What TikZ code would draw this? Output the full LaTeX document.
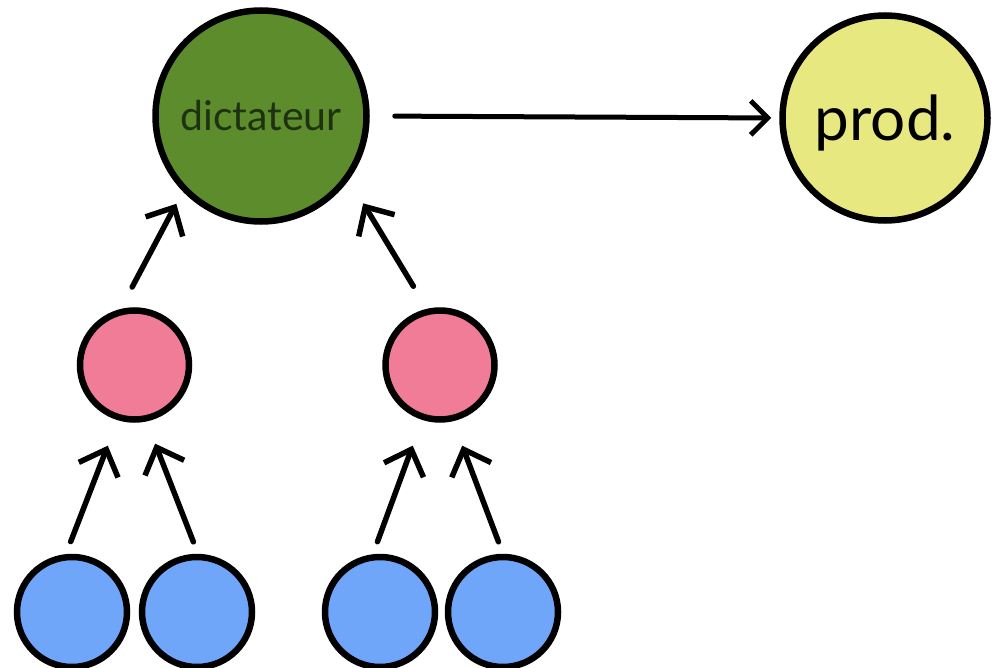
\documentclass[tikz,border=0pt]{standalone}
\usepackage{fontspec}
\setmainfont{Lato}
\usetikzlibrary{arrows.meta}
\definecolor{greenc}{RGB}{92,140,44}
\definecolor{pinkc}{RGB}{240,124,152}
\definecolor{bluec}{RGB}{112,166,250}
\definecolor{yellowc}{RGB}{232,232,128}
\definecolor{dtext}{RGB}{30,50,15}
\tikzset{
  circ/.style={circle, draw=black, line width=6.5pt, inner sep=0pt},
  pinknode/.style={circ, fill=pinkc, minimum size=109pt},
  bluenode/.style={circ, fill=bluec, minimum size=110pt},
  arr/.style={line width=5.5pt, draw=black, line cap=round,
    -{Straight Barb[length=22pt,width=42pt,line width=5.5pt]}},
  harr/.style={line width=5pt, draw=black, line cap=round,
    -{Straight Barb[length=17pt,width=34pt,line width=5pt]}}
}
\begin{document}
\begin{tikzpicture}[x=1pt,y=-1pt]
\useasboundingbox (0,0) rectangle (992,668);
\node[circ, fill=greenc, minimum size=211pt, text=dtext,
  font=\fontsize{41}{41}\selectfont] (d) at (261,116) {dictateur};
\node[circ, fill=yellowc, minimum size=205pt, text=black, text depth=0pt,
  font=\fontsize{62}{62}\selectfont] (pr) at (885,118) {prod.};
\node[pinknode] (p1) at (134.5,365) {};
\node[pinknode] (p2) at (440,365) {};
\node[bluenode] (b1) at (72,612) {};
\node[bluenode] (b2) at (197,612) {};
\node[bluenode] (b3) at (380,612) {};
\node[bluenode] (b4) at (503,612) {};
\draw[harr, shorten <=25pt, shorten >=8pt] (d.east) -- (pr.west);
\draw[arr, shorten <=24.8pt, shorten >=13.8pt] (p1.104.5) -- (d.224.4);
\draw[arr, shorten <=26.3pt, shorten >=27.4pt] (p2.103.6) -- (d.324.3);
\draw[arr, shorten <=13.3pt, shorten >=27.3pt] (b1.96.9) -- (p1.253.1);
\draw[arr, shorten <=12.8pt, shorten >=23.8pt] (b2.89.4) -- (p1.282.2);
\draw[arr, shorten <=13.3pt, shorten >=27.4pt] (b3.97.7) -- (p2.252.1);
\draw[arr, shorten <=12.8pt, shorten >=26.1pt] (b4.90.6) -- (p2.283.2);
\end{tikzpicture}
\end{document}
